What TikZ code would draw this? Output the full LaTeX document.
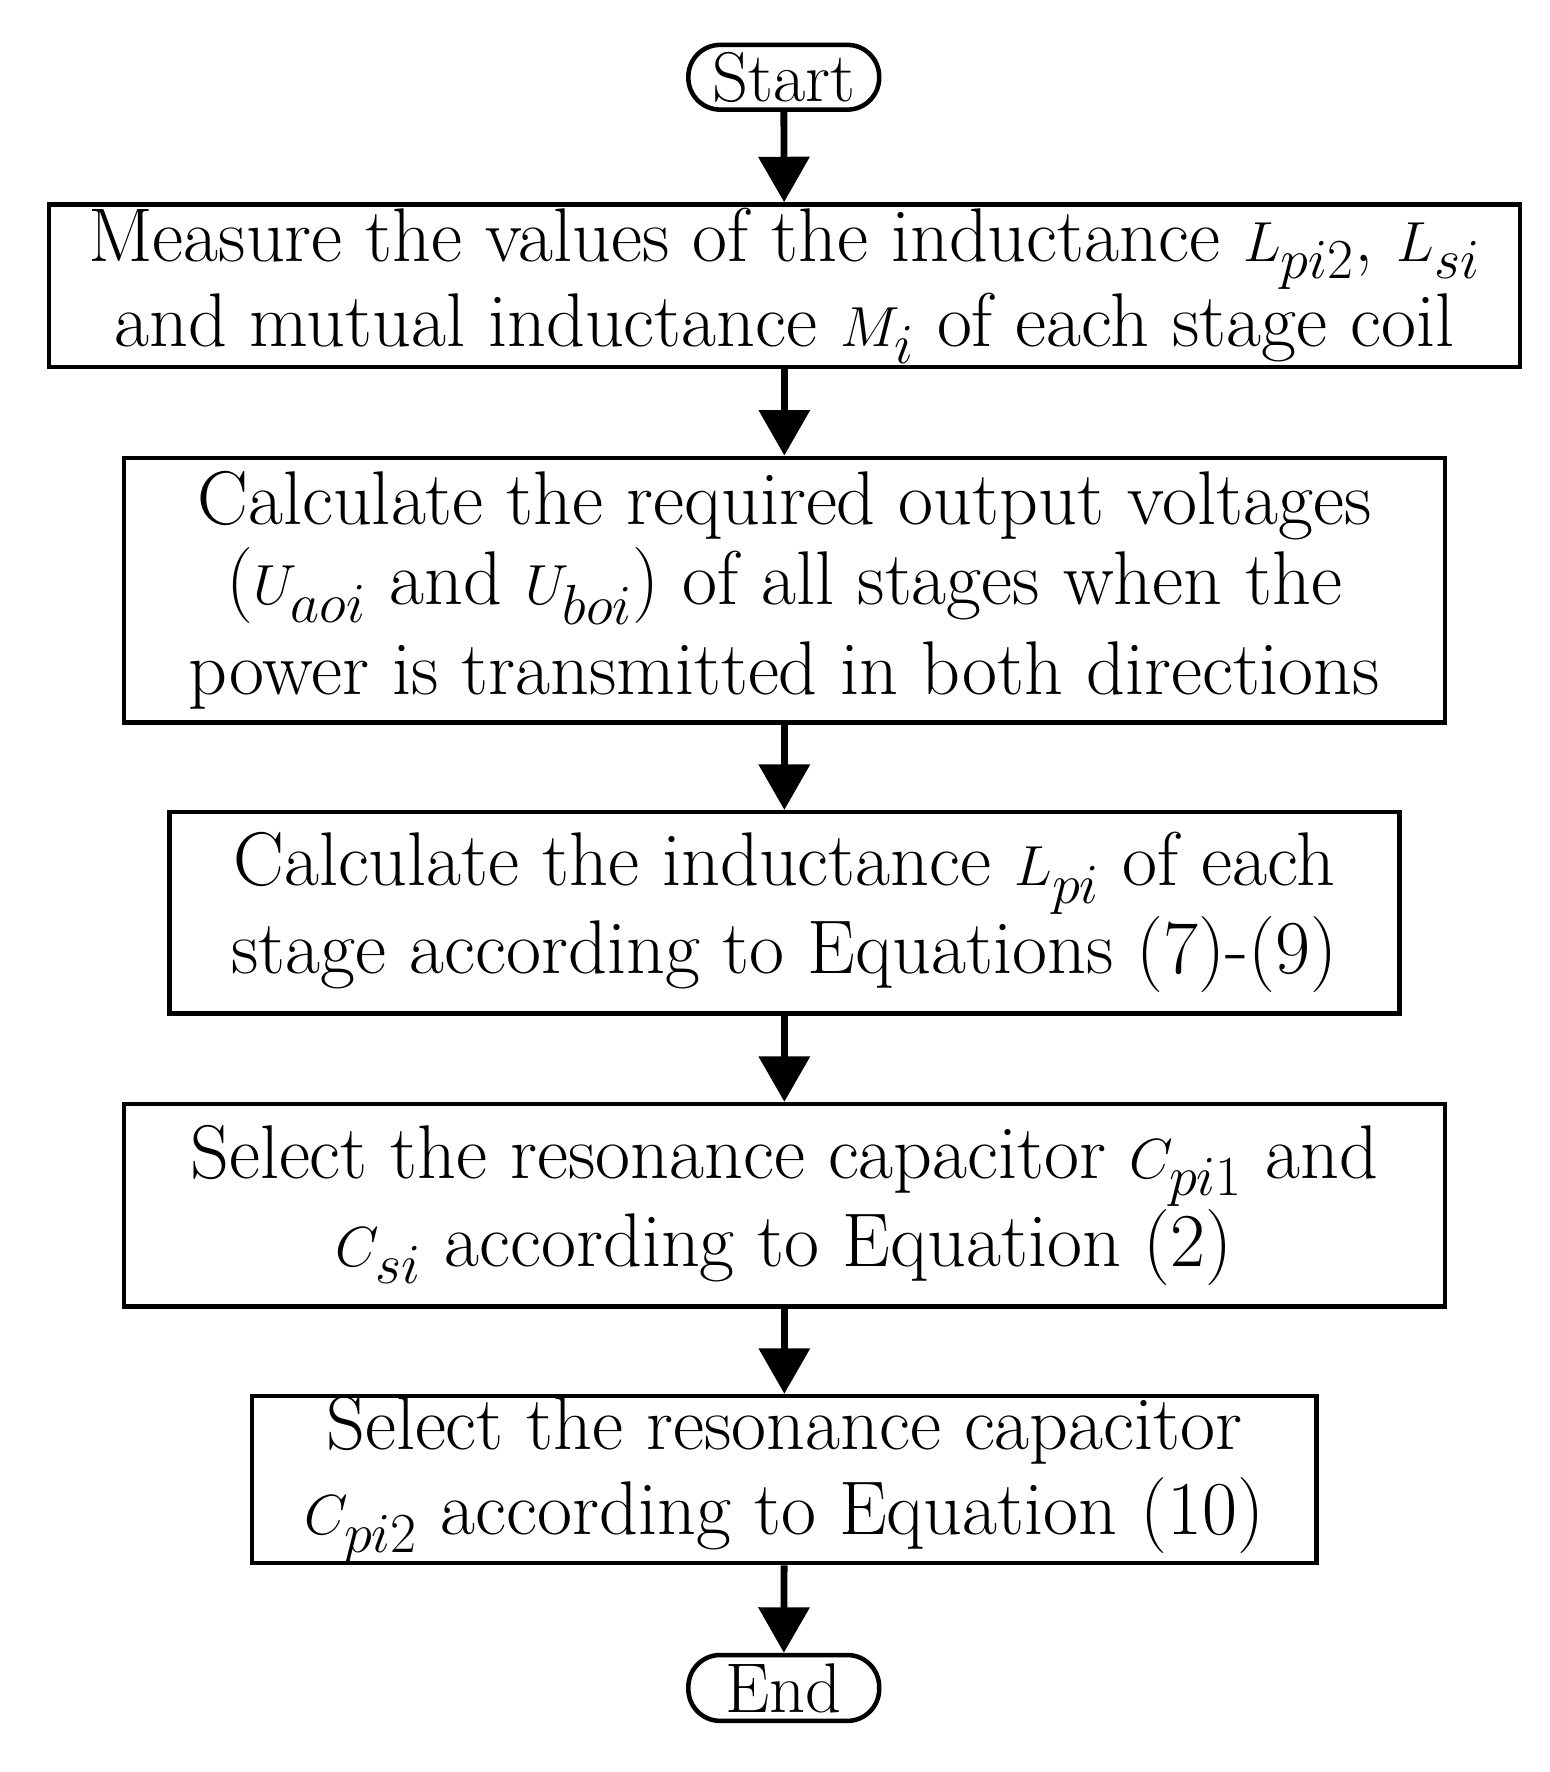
\documentclass[tikz,border=0pt]{standalone}
\usetikzlibrary{arrows.meta}
\begin{document}
\begin{tikzpicture}[x=0.5pt,y=-0.5pt,
  box/.style={draw,line width=2pt,align=center,inner sep=0pt,font=\fontsize{33.5}{37.5}\selectfont},
  term/.style={draw,line width=2pt,rounded corners=14pt,inner sep=0pt,font=\fontsize{31}{37.5}\selectfont},
  arr/.style={line width=3pt,-{Triangle[length=20pt,width=22pt]}}]
\useasboundingbox (0,0) rectangle (1364,1560);
\node[term,minimum width=84pt,minimum height=28.5pt] (s) at (690,68) {Start};
\node[box,minimum width=647.5pt,minimum height=71.5pt] (b1) at (690.5,251.5) {Measure the values of the inductance $L_{pi2}$, $L_{si}$\\and mutual inductance $M_i$ of each stage coil};
\node[box,minimum width=581.5pt,minimum height=116.5pt] (b2) at (690.5,519.5) {Calculate the required output voltages\\[-2pt]($U_{aoi}$ and $U_{boi}$) of all stages when the\\[2pt]power is transmitted in both directions};
\node[box,minimum width=541.5pt,minimum height=88.5pt] (b3) at (690.5,803.5) {Calculate the inductance $L_{pi}$ of each\\stage according to Equations (7)-(9)};
\node[box,minimum width=581.5pt,minimum height=89pt] (b4) at (690.5,1061) {Select the resonance capacitor $C_{pi1}$ and\\$C_{si}$ according to Equation (2)};
\node[box,minimum width=468.5pt,minimum height=72.5pt] (b5) at (690.5,1302.5) {Select the resonance capacitor\\$C_{pi2}$ according to Equation (10)};
\node[term,minimum width=84pt,minimum height=29pt] (e) at (690,1486) {End};
\foreach \a/\b in {s/b1,b1/b2,b2/b3,b3/b4,b4/b5,b5/e} \draw[arr] (\a) -- (\b);
\end{tikzpicture}
\end{document}
